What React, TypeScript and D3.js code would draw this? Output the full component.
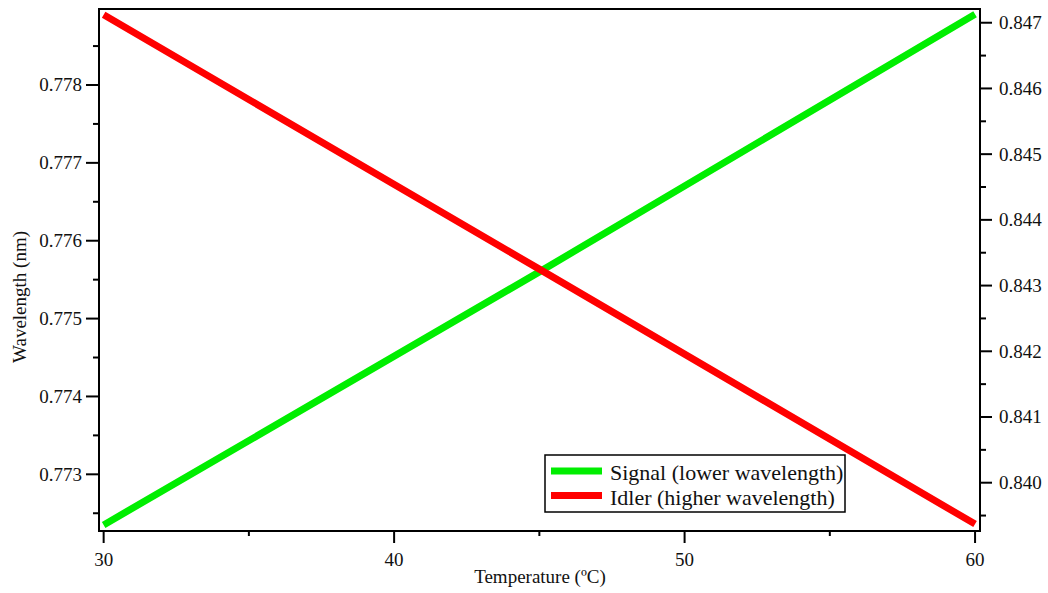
import React from "react";
import * as d3 from "d3";

const temperatures = [30, 45, 60];
const signalWavelength = [0.77235, 0.7756, 0.77891];
const idlerWavelength = [0.84712, 0.84325, 0.83937];

const xMajorTicks = [30, 40, 50, 60];
const xMinorTicks = [35, 45, 55];
const leftMajorTicks = [0.773, 0.774, 0.775, 0.776, 0.777, 0.778];
const leftMinorTicks = [0.7725, 0.7735, 0.7745, 0.7755, 0.7765, 0.7775, 0.7785];
const rightMajorTicks = [0.84, 0.841, 0.842, 0.843, 0.844, 0.845, 0.846, 0.847];
const rightMinorTicks = [0.8395, 0.8405, 0.8415, 0.8425, 0.8435, 0.8445, 0.8455, 0.8465];

const legendLabels = ["Signal (lower wavelength)", "Idler (higher wavelength)"];
const seriesColors = ["#00ee00", "#ff0000"];

const W = 1048;
const H = 593;
const L = 99, R = 980, T = 9, B = 531;
const FONT = "'Liberation Serif', 'Times New Roman', serif";

export default function App() {
  const x = d3.scaleLinear().domain([29.84, 60.17]).range([L, R]);
  const yL = d3.scaleLinear().domain([0.772272, 0.778976]).range([B, T]);
  const yR = d3.scaleLinear().domain([0.839265, 0.847209]).range([B, T]);

  const sigData = temperatures.map((t, i) => [t, signalWavelength[i]] as [number, number]);
  const idlData = temperatures.map((t, i) => [t, idlerWavelength[i]] as [number, number]);

  const lineL = d3.line<[number, number]>().x(d => x(d[0])).y(d => yL(d[1]));
  const lineR = d3.line<[number, number]>().x(d => x(d[0])).y(d => yR(d[1]));

  const stroke = "#000";
  const sw = 2;

  return (
    <svg width={W} height={H} style={{ position: "absolute", left: 0, top: 0, background: "#fff" }}>
      <rect x={0} y={0} width={W} height={H} fill="#fff" />
      {/* data */}
      <path d={lineL(sigData) || ""} fill="none" stroke={seriesColors[0]} strokeWidth={7} />
      <path d={lineR(idlData) || ""} fill="none" stroke={seriesColors[1]} strokeWidth={7} />

      {/* frame */}
      <rect x={L} y={T} width={R - L} height={B - T} fill="none" stroke={stroke} strokeWidth={sw} />

      {/* x ticks */}
      {xMajorTicks.map(t => (
        <g key={"xm" + t}>
          <line x1={x(t)} x2={x(t)} y1={B} y2={B + 12} stroke={stroke} strokeWidth={sw} />
          <text x={x(t)} y={566} textAnchor="middle" fontFamily={FONT} fontSize={19} fill="#111">{t}</text>
        </g>
      ))}
      {xMinorTicks.map(t => (
        <line key={"xn" + t} x1={x(t)} x2={x(t)} y1={B} y2={B + 5} stroke={stroke} strokeWidth={sw} />
      ))}

      {/* left ticks */}
      {leftMajorTicks.map(t => (
        <g key={"lm" + t}>
          <line x1={L - 13} x2={L} y1={yL(t)} y2={yL(t)} stroke={stroke} strokeWidth={sw} />
          <text x={82} y={yL(t)} dy="0.34em" textAnchor="end" fontFamily={FONT} fontSize={19} fill="#111">{t.toFixed(3)}</text>
        </g>
      ))}
      {leftMinorTicks.map(t => (
        <line key={"ln" + t} x1={L - 6} x2={L} y1={yL(t)} y2={yL(t)} stroke={stroke} strokeWidth={sw} />
      ))}

      {/* right ticks */}
      {rightMajorTicks.map(t => (
        <g key={"rm" + t}>
          <line x1={R} x2={R + 12} y1={yR(t)} y2={yR(t)} stroke={stroke} strokeWidth={sw} />
          <text x={999} y={yR(t)} dy="0.34em" textAnchor="start" fontFamily={FONT} fontSize={19} fill="#111">{t.toFixed(3)}</text>
        </g>
      ))}
      {rightMinorTicks.map(t => (
        <line key={"rn" + t} x1={R} x2={R + 6} y1={yR(t)} y2={yR(t)} stroke={stroke} strokeWidth={sw} />
      ))}

      {/* axis titles */}
      <text x={540} y={583} textAnchor="middle" fontFamily={FONT} fontSize={19} fill="#111">Temperature (ºC)</text>
      <text transform={`translate(26,297) rotate(-90)`} textAnchor="middle" fontFamily={FONT} fontSize={19} fill="#111">Wavelength (nm)</text>

      {/* legend */}
      <rect x={545} y={455} width={300} height={57} fill="#fff" stroke={stroke} strokeWidth={1.5} />
      {legendLabels.map((lab, i) => (
        <g key={lab}>
          <line x1={551} x2={602} y1={471 + i * 24.5} y2={471 + i * 24.5} stroke={seriesColors[i]} strokeWidth={7} />
          <text x={610} y={480 + i * 24.5} fontFamily={FONT} fontSize={22} fill="#111">{lab}</text>
        </g>
      ))}
    </svg>
  );
}
